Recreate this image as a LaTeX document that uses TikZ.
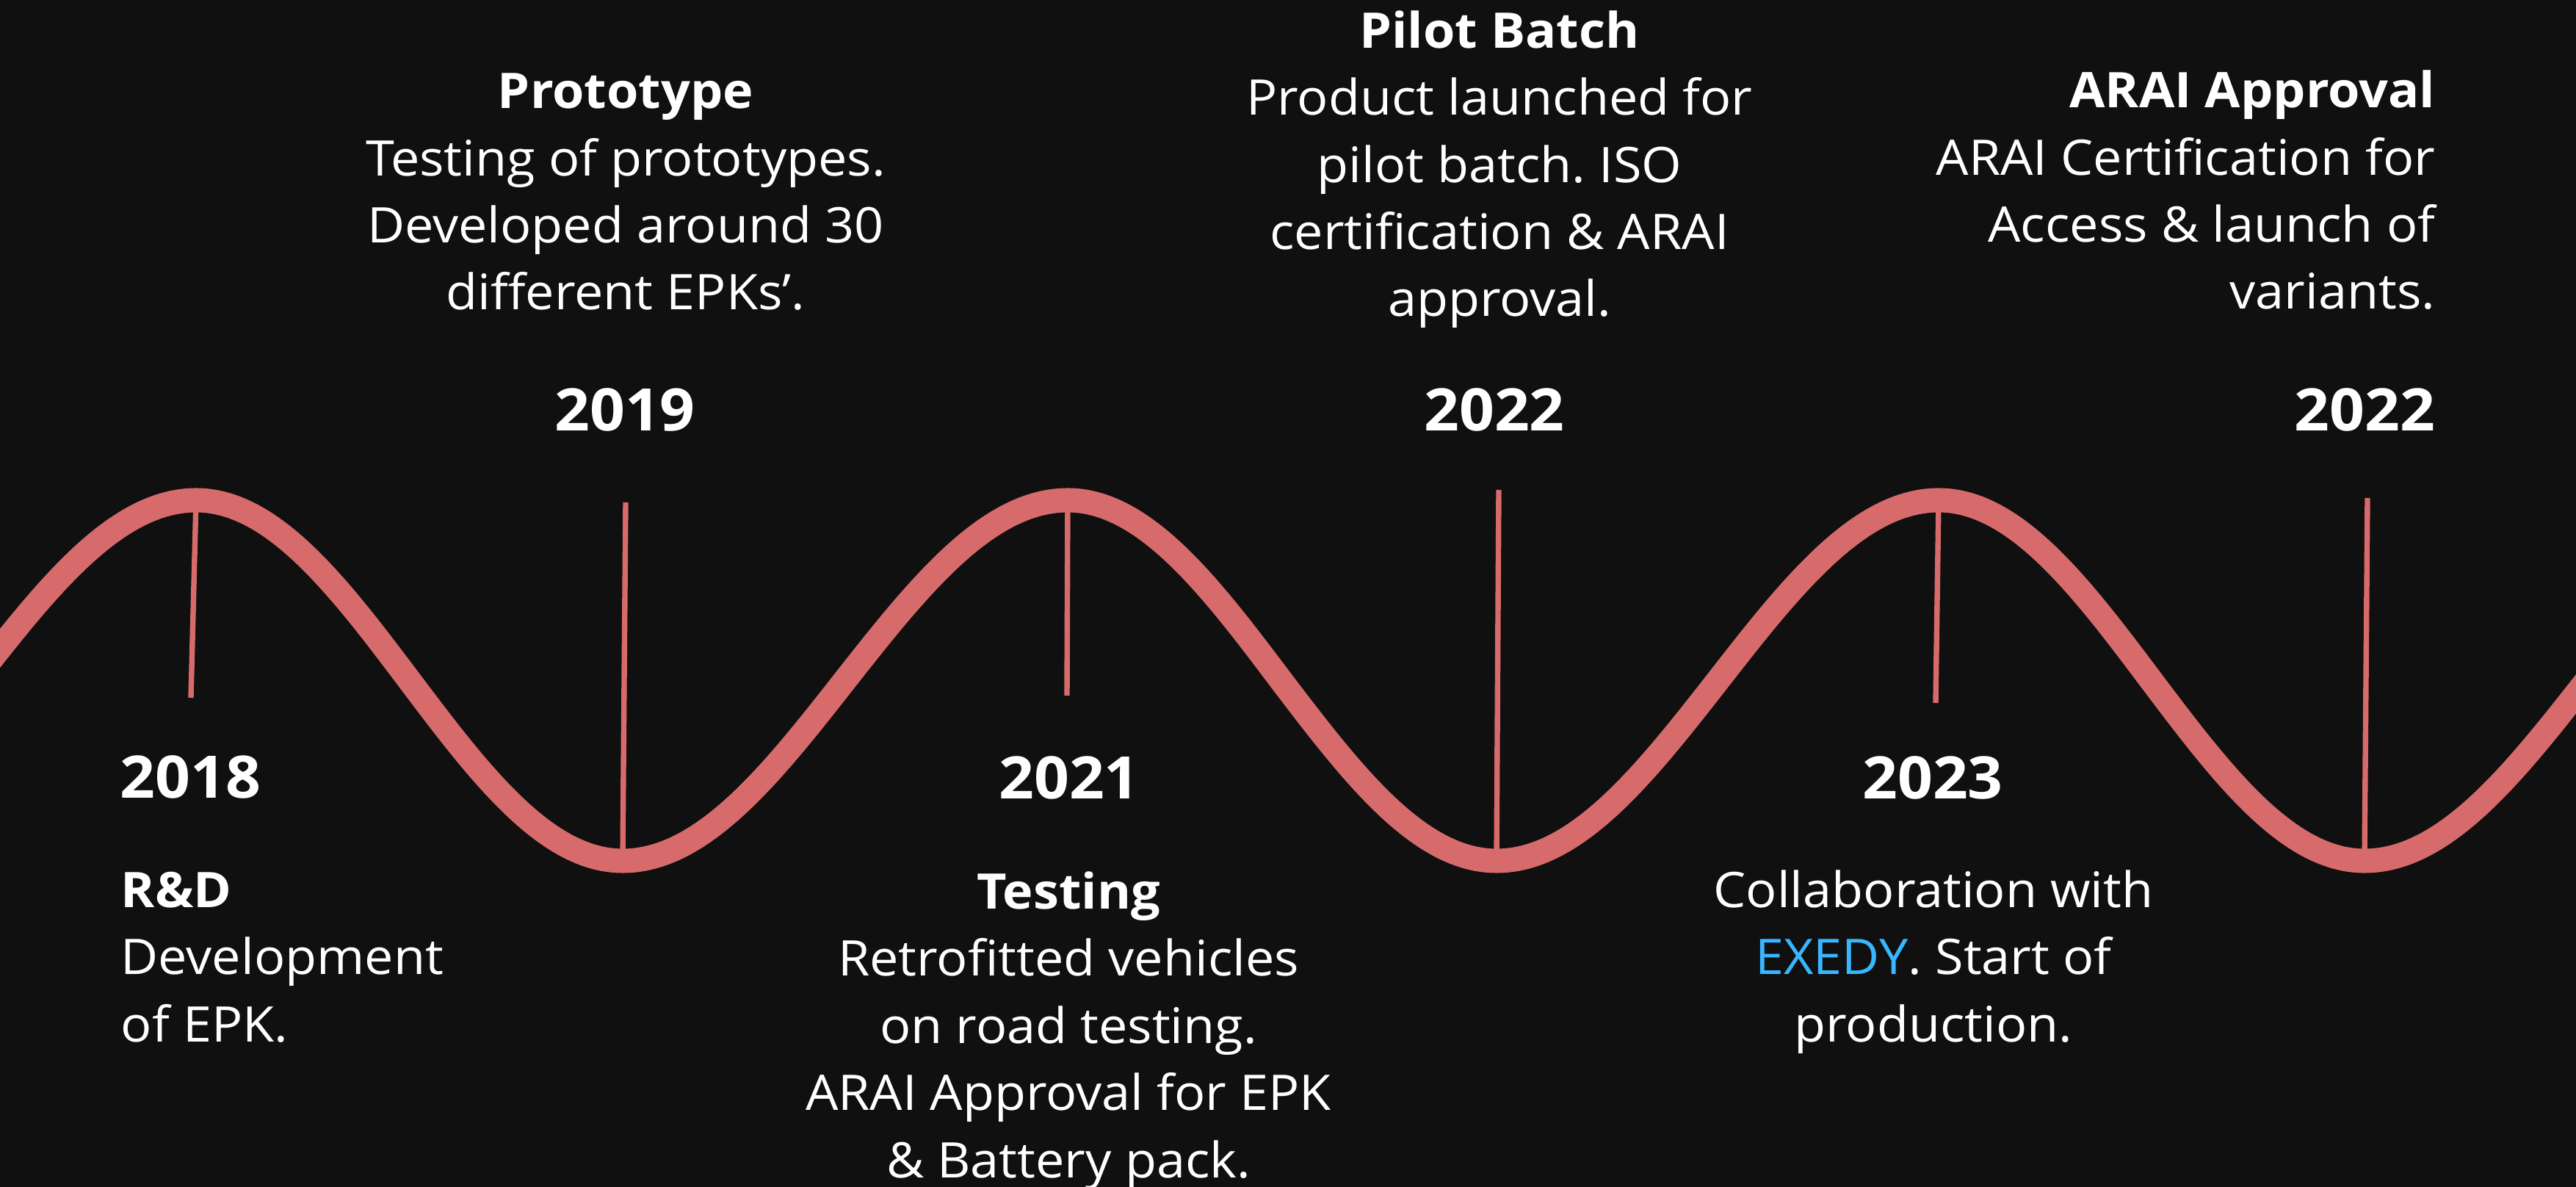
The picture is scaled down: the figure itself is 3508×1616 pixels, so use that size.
\documentclass[tikz,border=0pt]{standalone}
\usepackage{fontspec}
\setmainfont{Open Sans}[FakeStretch=1.05]
\usetikzlibrary{positioning}
\frenchspacing

\definecolor{bgdark}{HTML}{101010}
\definecolor{wavered}{HTML}{D76B6B}
\definecolor{exedy}{HTML}{38B6FF}

\tikzset{
    wave/.style={draw=wavered, line width=9.4pt},
    tick/.style={draw=wavered, line width=2.1pt},
    year/.style={text=white, inner sep=0pt, font=\fontsize{22.7pt}{27pt}\selectfont\bfseries},
    info/.style={text=white, inner sep=0pt, font=\fontsize{19pt}{26pt}\selectfont}
}

\begin{document}
\begin{tikzpicture}[x=0.01cm, y=-0.01cm]
        % \draw (0, 0) grid (3508, 1616);
        \useasboundingbox (0, 0) rectangle (3508, 1616);
        \fill[bgdark] (0, 0) rectangle (3508, 1616);
        \clip (0, 0) rectangle (3508, 1616);

        \coordinate (peak_1) at (267, 681);
        \coordinate (trough_1) at (848, 1172);
        \coordinate (peak_2) at (1454, 681);
        \coordinate (trough_2) at (2038, 1172);
        \coordinate (peak_3) at (2640, 681);
        \coordinate (trough_3) at (3220, 1172);

        \coordinate (tick_1) at (260, 950);
        \coordinate (tick_2) at (852, 684);
        \coordinate (tick_3) at (1453, 947);
        \coordinate (tick_4) at (2041, 667);
        \coordinate (tick_5) at (2636, 957);
        \coordinate (tick_6) at (3224, 678);

        \draw[wave] (-35, 927) sin (peak_1) cos (558, 927) sin (trough_1)
            cos (1150, 927) sin (peak_2) cos (1745, 927) sin (trough_2)
            cos (2339, 927) sin (peak_3) cos (2930, 927) sin (trough_3)
            cos (3522, 927);

        \draw[tick] (peak_1) -- (tick_1);
        \draw[tick] (trough_1) -- (tick_2);
        \draw[tick] (peak_2) -- (tick_3);
        \draw[tick] (trough_2) -- (tick_4);
        \draw[tick] (peak_3) -- (tick_5);
        \draw[tick] (trough_3) -- (tick_6);

        % base = baseline of the last line
        \node[year, anchor=base west, name=year_2018] at (163, 1086) {2018};
        \node[info, anchor=base west, align=left, name=rnd] at (164, 1418)
            {\textbf{R\&D}\\Development\\of EPK.};

        \node[year, anchor=base, name=year_2019] at (851, 587) {2019};
        \node[info, anchor=base, align=center, name=prototype] at (852, 422)
            {\textbf{Prototype}\\Testing of prototypes.\\Developed around 30\\different EPKs’.};

        \node[year, anchor=base, name=year_2021] at (1456, 1087) {2021};
        \node[info, anchor=base, align=center, name=testing] at (1455, 1603)
            {\textbf{Testing}\\Retrofitted vehicles\\on road testing.\\ARAI Approval for EPK\\\& Battery pack.};

        \node[year, anchor=base, name=year_2022a] at (2035, 587) {2022};
        \node[info, anchor=base, align=center, name=pilot] at (2042, 431)
            {\textbf{Pilot Batch}\\Product launched for\\pilot batch. ISO\\certification \& ARAI\\approval.};

        \node[year, anchor=base, name=year_2023] at (2632, 1087) {2023};
        \node[info, anchor=base, align=center, name=collab] at (2633, 1418)
            {Collaboration with\\\textcolor{exedy}{EXEDY}. Start of\\production.};

        \node[year, anchor=base east, name=year_2022b] at (3317, 587) {2022};
        \node[info, anchor=base east, align=right, name=arai] at (3317, 421)
            {\textbf{ARAI Approval}\\ARAI Certification for\\Access \& launch of\\variants.};
    \end{tikzpicture}
\end{document}
